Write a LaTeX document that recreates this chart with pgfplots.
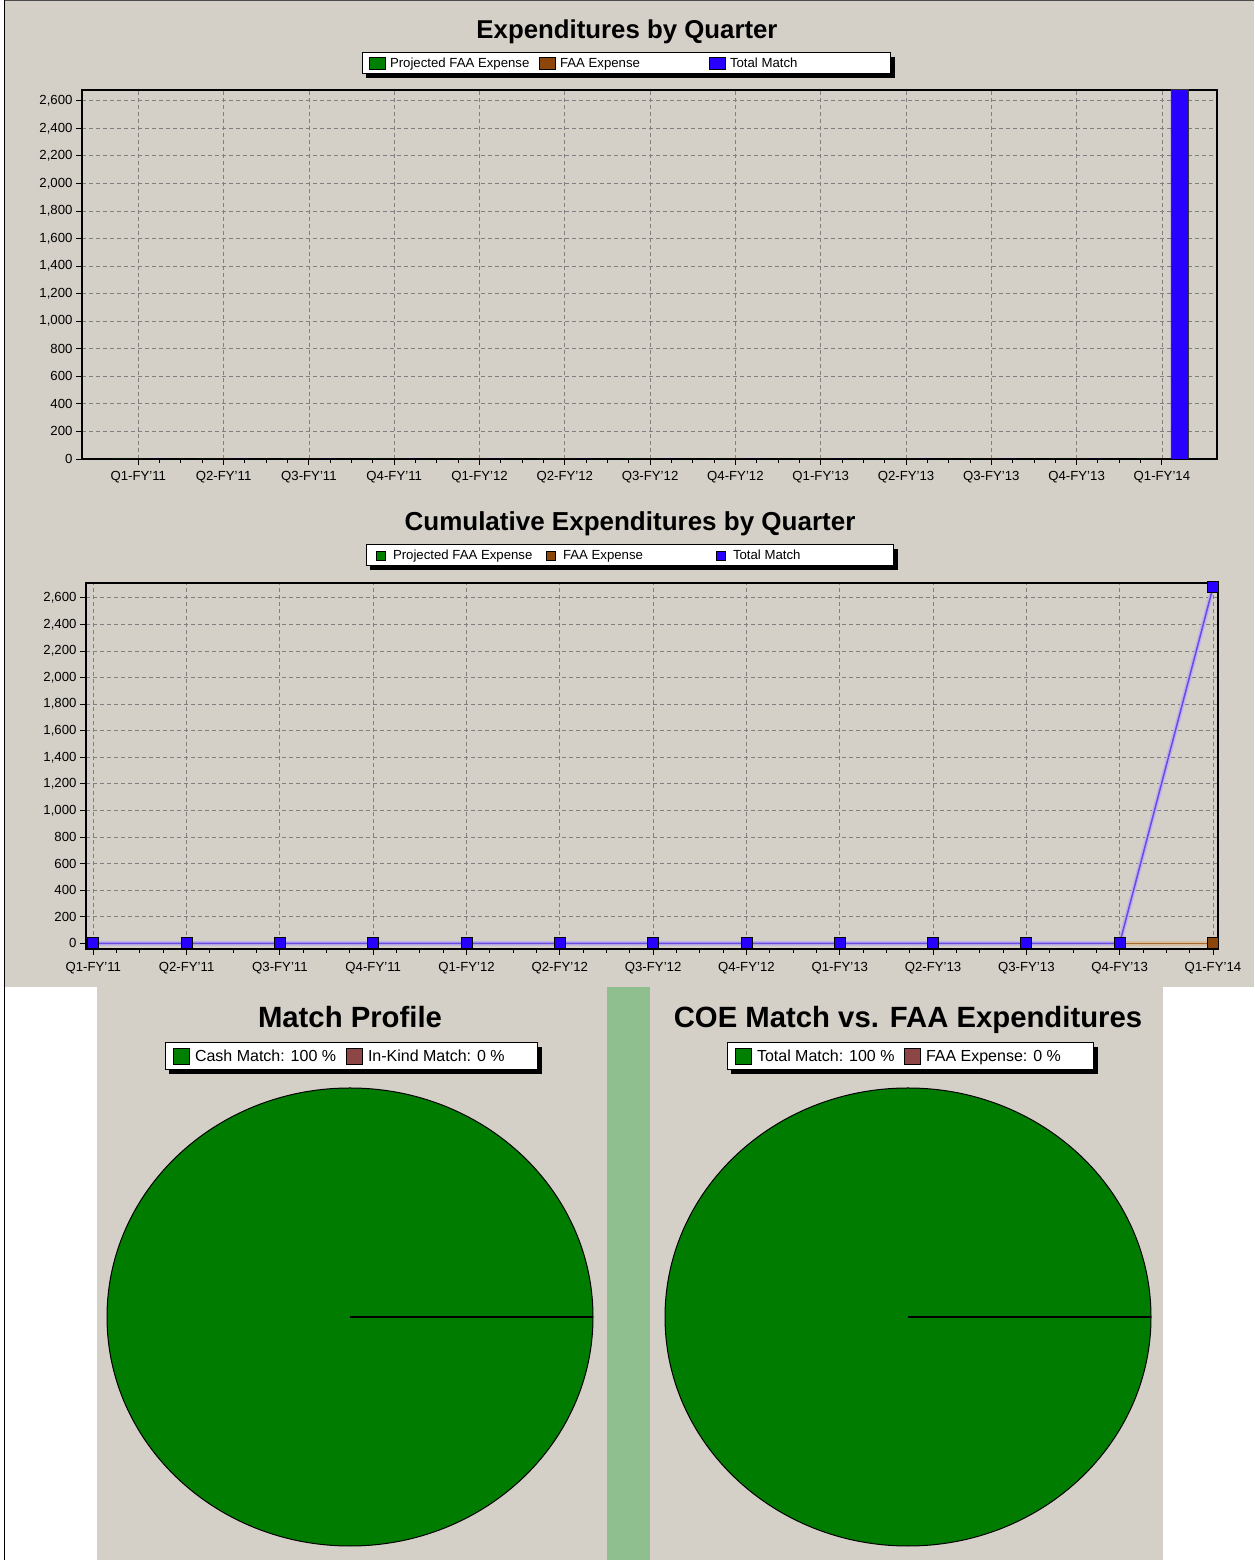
\documentclass[border=0pt]{standalone}
\usepackage{pgfplots}
\pgfplotsset{compat=1.18}
\usepackage{fontspec}
\setmainfont{Liberation Sans}

\definecolor{bg}{RGB}{212,208,200}
\definecolor{cGreen}{RGB}{0,128,0}
\definecolor{cBrown}{RGB}{140,70,10}
\definecolor{cBlue}{RGB}{40,0,255}
\definecolor{cLine}{RGB}{105,75,225}
\definecolor{cHalo}{RGB}{190,178,236}
\definecolor{cBrownLine}{RGB}{165,105,45}
\definecolor{cBrownHalo}{RGB}{215,190,160}
\definecolor{cStrip}{RGB}{143,191,143}
\definecolor{cRose}{RGB}{140,70,70}
\definecolor{pieGreen}{RGB}{0,125,0}

% pie data (percent)
\def\cashmatch{100}
\def\inkindmatch{0}
\def\totalmatchpct{100}
\def\faaexppct{0}
\pgfmathsetmacro\angA{\cashmatch/(\cashmatch+\inkindmatch)*360}
\pgfmathsetmacro\angB{\totalmatchpct/(\totalmatchpct+\faaexppct)*360}

\newcommand{\tickfont}{\fontsize{13.2}{15}\selectfont}
\newcommand{\pielegfont}{\fontsize{16}{18}\selectfont}

\pgfplotsset{
  chartlegend/.style={
    legend style={draw=black, line width=1pt, fill=white, inner sep=0pt, outer sep=0pt,
      column sep=0pt, nodes={inner sep=0pt, draw=none, font=#1}},
    legend cell align=left},
}

\begin{document}
\begin{tikzpicture}
% ---------- backgrounds ----------
\fill[white] (0pt,0pt) rectangle (1254pt,1560pt);
\fill[bg] (5pt,573pt) rectangle (1254pt,1560pt);
\fill[bg] (97pt,0pt) rectangle (607pt,573pt);
\fill[cStrip] (607pt,0pt) rectangle (650pt,573pt);
\fill[bg] (650pt,0pt) rectangle (1163pt,573pt);
\draw[black, line width=1pt] (4.5pt,0pt) -- (4.5pt,1560pt);
\draw[black!70, line width=1pt] (4.5pt,1559pt) -- (1254pt,1559pt);
% legend drop shadows
\fill[black] (366pt,1482pt) rectangle (895pt,1503pt);
\fill[black] (370pt,990pt) rectangle (898pt,1011pt);
\fill[black] (169pt,486pt) rectangle (542pt,513pt);
\fill[black] (731pt,486pt) rectangle (1098pt,513pt);

% ---------- Expenditures by Quarter ----------
\begin{axis}[
  scale only axis, width=1135pt, height=369pt, at={(82pt,1101pt)}, anchor=south west,
  xmin=-0.66, xmax=12.646, ymin=0, ymax=2678,
  xtick={0,...,12},
  xticklabels={Q1-FY'11,Q2-FY'11,Q3-FY'11,Q4-FY'11,Q1-FY'12,Q2-FY'12,Q3-FY'12,Q4-FY'12,Q1-FY'13,Q2-FY'13,Q3-FY'13,Q4-FY'13,Q1-FY'14},
  minor x tick num=3,
  ytick={0,200,...,2600},
  tick pos=left, tick align=outside, major tick length=6pt, minor tick length=4pt,
  tick style={black, line width=0.9pt},
  grid=major, major grid style={draw=black!50, dash pattern=on 4pt off 3pt, line width=0.8pt},
  axis line style={black, line width=2pt},
  ticklabel style={font=\tickfont},
  xticklabel style={yshift=-3pt},
  /pgf/number format/1000 sep={,}, /pgf/number format/assume math mode=true,
  ybar, bar width=17.6pt,
  chartlegend=\tickfont,
  legend columns=3,
  legend style={at={(0.2467,1.10027)}, anchor=north west},
]
\addlegendimage{legend image code/.code={\path[draw=none,fill=none] (-7pt,-10.5pt) rectangle (21pt,10.5pt);
  \fill[cGreen, draw=black, line width=0.8pt] (0pt,-6pt) rectangle (16pt,6pt);}}
\addlegendentry{\makebox[142pt][l]{Projected FAA Expense}}
\addlegendimage{legend image code/.code={\path[draw=none,fill=none] (-7pt,-10.5pt) rectangle (21pt,10.5pt);
  \fill[cBrown, draw=black, line width=0.8pt] (0pt,-6pt) rectangle (16pt,6pt);}}
\addlegendentry{\makebox[142pt][l]{FAA Expense}}
\addlegendimage{legend image code/.code={\path[draw=none,fill=none] (-7pt,-10.5pt) rectangle (21pt,10.5pt);
  \fill[cBlue, draw=black, line width=0.8pt] (0pt,-6pt) rectangle (16pt,6pt);}}
\addlegendentry{\makebox[160pt][l]{Total Match}}
\addplot[forget plot, bar shift=-17.8pt, fill=cGreen, draw=black, line width=0.6pt] coordinates {
 (0,0) (1,0) (2,0) (3,0) (4,0) (5,0) (6,0) (7,0) (8,0) (9,0) (10,0) (11,0) (12,0)};
\addplot[forget plot, bar shift=0pt, fill=cBrown, draw=black, line width=0.6pt] coordinates {
 (0,0) (1,0) (2,0) (3,0) (4,0) (5,0) (6,0) (7,0) (8,0) (9,0) (10,0) (11,0) (12,0)};
\addplot[forget plot, bar shift=17.8pt, fill=cBlue, draw=black!80, line width=0.8pt] coordinates {
 (0,0) (1,0) (2,0) (3,0) (4,0) (5,0) (6,0) (7,0) (8,0) (9,0) (10,0) (11,0) (12,2680)};
\end{axis}

% ---------- Cumulative Expenditures by Quarter ----------
\begin{axis}[
  scale only axis, width=1132pt, height=366pt, at={(86pt,611pt)}, anchor=south west,
  xmin=-0.078, xmax=12.054, ymin=-43, ymax=2712,
  xtick={0,...,12},
  xticklabels={Q1-FY'11,Q2-FY'11,Q3-FY'11,Q4-FY'11,Q1-FY'12,Q2-FY'12,Q3-FY'12,Q4-FY'12,Q1-FY'13,Q2-FY'13,Q3-FY'13,Q4-FY'13,Q1-FY'14},
  minor x tick num=3,
  ytick={0,200,...,2600},
  tick pos=left, tick align=outside, major tick length=6pt, minor tick length=4pt,
  tick style={black, line width=0.9pt},
  grid=major, major grid style={draw=black!50, dash pattern=on 4pt off 3pt, line width=0.8pt},
  axis line style={black, line width=2pt},
  ticklabel style={font=\tickfont},
  xticklabel style={yshift=-4pt},
  /pgf/number format/1000 sep={,}, /pgf/number format/assume math mode=true,
  clip=false,
  chartlegend=\tickfont,
  legend columns=3,
  legend style={at={(0.24735,1.10383)}, anchor=north west},
]
\addlegendimage{legend image code/.code={\path[draw=none,fill=none] (-10pt,-10.5pt) rectangle (17pt,10.5pt);
  \fill[cGreen, draw=black, line width=0.6pt] (0pt,-4.5pt) rectangle (9pt,4.5pt);}}
\addlegendentry{\makebox[143pt][l]{Projected FAA Expense}}
\addlegendimage{legend image code/.code={\path[draw=none,fill=none] (-10pt,-10.5pt) rectangle (17pt,10.5pt);
  \fill[cBrown, draw=black, line width=0.6pt] (0pt,-4.5pt) rectangle (9pt,4.5pt);}}
\addlegendentry{\makebox[143pt][l]{FAA Expense}}
\addlegendimage{legend image code/.code={\path[draw=none,fill=none] (-10pt,-10.5pt) rectangle (17pt,10.5pt);
  \fill[cBlue, draw=black, line width=0.6pt] (0pt,-4.5pt) rectangle (9pt,4.5pt);}}
\addlegendentry{\makebox[160pt][l]{Total Match}}
\addplot[forget plot, draw=cGreen, line width=1.5pt, mark=square*, mark size=5.5pt,
  mark options={fill=cGreen, draw=black, line width=0.8pt, solid}] coordinates {
 (0,0) (1,0) (2,0) (3,0) (4,0) (5,0) (6,0) (7,0) (8,0) (9,0) (10,0) (11,0) (12,0)};
\addplot[forget plot, draw=cBrownLine, line width=1.5pt, preaction={draw=cBrownHalo, line width=4.5pt},
  mark=square*, mark size=5.5pt,
  mark options={fill=cBrown, draw=black, line width=0.8pt, solid}] coordinates {
 (0,0) (1,0) (2,0) (3,0) (4,0) (5,0) (6,0) (7,0) (8,0) (9,0) (10,0) (11,0) (12,0)};
\addplot[forget plot, draw=cLine, line width=1.5pt, preaction={draw=cHalo, line width=4.5pt},
  mark=square*, mark size=5.5pt,
  mark options={fill=cBlue, draw=black, line width=0.8pt, solid}] coordinates {
 (0,0) (1,0) (2,0) (3,0) (4,0) (5,0) (6,0) (7,0) (8,0) (9,0) (10,0) (11,0) (12,2680)};
\end{axis}

% ---------- Match Profile pie ----------
\begin{axis}[
  hide axis, scale only axis, width=486pt, height=458pt, at={(107pt,14pt)}, anchor=south west,
  xmin=-1, xmax=1, ymin=-1, ymax=1, clip=false,
  chartlegend=\pielegfont,
  legend columns=2,
  legend style={at={(0.11934,1.09825)}, anchor=north west},
]
\addlegendimage{legend image code/.code={\path[draw=none,fill=none] (-8pt,-13.5pt) rectangle (22pt,13.5pt);
  \fill[cGreen, draw=black, line width=0.8pt] (0pt,-8pt) rectangle (16pt,8pt);}}
\addlegendentry{\makebox[143pt][l]{Cash Match: 100 \%}}
\addlegendimage{legend image code/.code={\path[draw=none,fill=none] (-8pt,-13.5pt) rectangle (22pt,13.5pt);
  \fill[cRose, draw=black, line width=0.8pt] (0pt,-8pt) rectangle (16pt,8pt);}}
\addlegendentry{\makebox[169pt][l]{In-Kind Match: 0 \%}}
\filldraw[fill=pieGreen, draw=black, line width=1pt] (axis cs:0,0) -- ++(0:243pt and 229pt)
  arc[start angle=0, end angle=\angA, x radius=243pt, y radius=229pt] -- cycle;
\draw[black, line width=1.8pt] (axis cs:0,0) -- ++(\angA:243pt and 229pt);
\end{axis}

% ---------- COE Match vs. FAA Expenditures pie ----------
\begin{axis}[
  hide axis, scale only axis, width=486pt, height=458pt, at={(665pt,14pt)}, anchor=south west,
  xmin=-1, xmax=1, ymin=-1, ymax=1, clip=false,
  chartlegend=\pielegfont,
  legend columns=2,
  legend style={at={(0.12757,1.09825)}, anchor=north west},
]
\addlegendimage{legend image code/.code={\path[draw=none,fill=none] (-8pt,-13.5pt) rectangle (22pt,13.5pt);
  \fill[cGreen, draw=black, line width=0.8pt] (0pt,-8pt) rectangle (16pt,8pt);}}
\addlegendentry{\makebox[139pt][l]{Total Match: 100 \%}}
\addlegendimage{legend image code/.code={\path[draw=none,fill=none] (-8pt,-13.5pt) rectangle (22pt,13.5pt);
  \fill[cRose, draw=black, line width=0.8pt] (0pt,-8pt) rectangle (16pt,8pt);}}
\addlegendentry{\makebox[167pt][l]{FAA Expense: 0 \%}}
\filldraw[fill=pieGreen, draw=black, line width=1pt] (axis cs:0,0) -- ++(0:243pt and 229pt)
  arc[start angle=0, end angle=\angB, x radius=243pt, y radius=229pt] -- cycle;
\draw[black, line width=1.8pt] (axis cs:0,0) -- ++(\angB:243pt and 229pt);
\end{axis}

% ---------- titles ----------
\node[anchor=base, inner sep=0pt, font=\fontsize{25.8}{30}\selectfont\bfseries] at (627pt,1521.5pt) {Expenditures by Quarter};
\node[anchor=base, inner sep=0pt, font=\fontsize{26}{30}\selectfont\bfseries] at (630pt,1029pt) {Cumulative Expenditures by Quarter};
\node[anchor=base, inner sep=0pt, font=\fontsize{29.3}{34}\selectfont\bfseries] at (350pt,532pt) {Match Profile};
\node[anchor=base, inner sep=0pt, font=\fontsize{29.3}{34}\selectfont\bfseries] at (908pt,532pt) {COE Match vs. FAA Expenditures};

\pgfresetboundingbox
\useasboundingbox (0pt,0pt) rectangle (1254pt,1560pt);
\end{tikzpicture}
\end{document}
